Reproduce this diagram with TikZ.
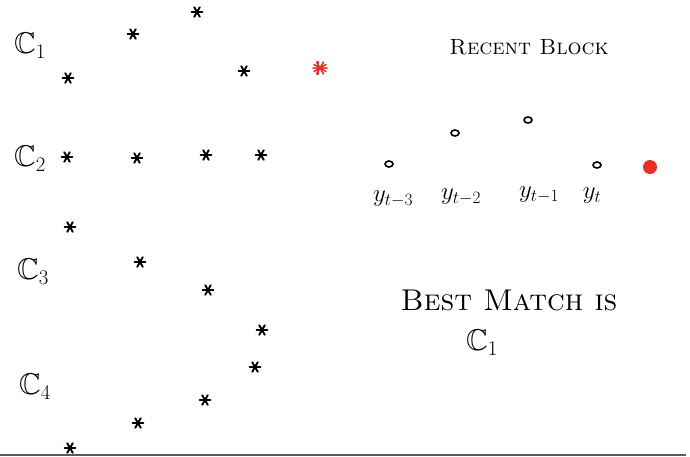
\documentclass[tikz,border=0pt]{standalone}
\usepackage{amssymb}
\definecolor{redink}{RGB}{236,46,36}
\definecolor{rule}{RGB}{90,90,90}
\tikzset{
  asterisk/.pic={
    \draw[line width=1.9pt,line cap=round] (-5.5,0) -- (5.5,0)
      (-2.75,-4.8) -- (2.75,4.8) (-2.75,4.8) -- (2.75,-4.8);
  },
  bigasterisk/.pic={
    \draw[redink,line width=1.5pt,line cap=round] (-7,0) -- (7,0)
      (-3.5,-6) -- (3.5,6) (-3.5,6) -- (3.5,-6)
      (-6,-3.5) -- (6,3.5) (-6,3.5) -- (6,-3.5) (-2,-6.5) -- (-2,6.5);
  },
  clabel/.style={inner sep=0pt,font=\fontsize{30}{30}\selectfont},
  hand/.style={inner sep=0pt,font=\fontsize{22}{22}\selectfont\scshape},
  handbig/.style={inner sep=0pt,font=\fontsize{30}{30}\selectfont\scshape},
  ylabel/.style={inner sep=0pt,font=\fontsize{26}{26}\selectfont},
  dotmark/.style={draw,line width=1.6pt,ellipse,minimum width=8pt,minimum height=6pt,inner sep=0pt},
}
\usetikzlibrary{shapes.geometric}
\begin{document}
\begin{tikzpicture}[x=1pt,y=-1pt]
\useasboundingbox (0,0) rectangle (690,456);
% cluster labels
\node[clabel] (c1) at (30,46) {$\mathbb{C}_1$};
\node[clabel] (c2) at (30,159) {$\mathbb{C}_2$};
\node[clabel] (c3) at (33,272) {$\mathbb{C}_3$};
\node[clabel] (c4) at (35,387) {$\mathbb{C}_4$};
% C1
\pic at (68,78) {asterisk};
\pic at (133,34) {asterisk};
\pic at (197,12) {asterisk};
\pic at (244,71) {asterisk};
\pic at (320,68) {bigasterisk};
% C2
\pic at (67,157) {asterisk};
\pic at (137,158) {asterisk};
\pic at (206,155) {asterisk};
\pic at (261,155) {asterisk};
% C3
\pic at (70,227) {asterisk};
\pic at (140,262) {asterisk};
\pic at (208,290) {asterisk};
\pic at (262,330) {asterisk};
% C4
\pic at (255,367) {asterisk};
\pic at (205,400) {asterisk};
\pic at (138,423) {asterisk};
\pic at (70,448) {asterisk};
% recent block
\node[hand] (rb) at (529,47) {Recent Block};
\node[dotmark] (p1) at (389,164) {};
\node[dotmark] (p2) at (455,133) {};
\node[dotmark] (p3) at (528,120) {};
\node[dotmark] (p4) at (597,165) {};
\node[circle,fill=redink,minimum size=14pt,inner sep=0pt] (pn) at (650,167) {};
\node[ylabel] (y1) at (393,199) {$y_{t-3}$};
\node[ylabel] (y2) at (461,197) {$y_{t-2}$};
\node[ylabel] (y3) at (539,195) {$y_{t-1}$};
\node[ylabel] (y4) at (592,196) {$y_{t}$};
% best match
\node[handbig] (bm) at (509,300) {Best Match is};
\node[clabel] (bc) at (482,343) {$\mathbb{C}_1$};
% bottom rule
\draw[rule,line width=1.5pt] (0,455) -- (686,455);
\end{tikzpicture}
\end{document}
